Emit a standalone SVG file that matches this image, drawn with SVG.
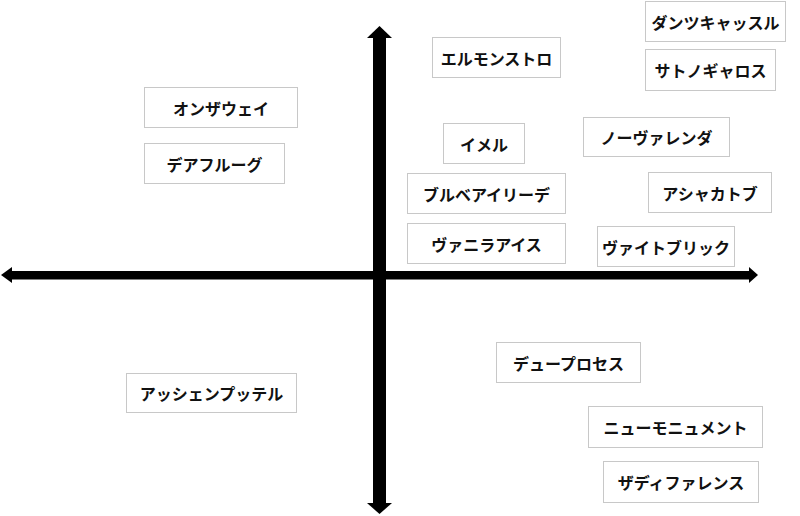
<svg xmlns="http://www.w3.org/2000/svg" width="800" height="516" viewBox="0 0 800 516">
<style>
.box{fill:#fff;stroke:#c8c8c8;stroke-width:1}
.lbl{font-family:"Noto Sans CJK JP","Noto Sans",sans-serif;font-weight:bold;font-size:16px;fill:#111;text-anchor:middle;dominant-baseline:central}
</style>
<rect width="800" height="516" fill="#fff"/>
<g id="connectors" fill="#000">
<rect x="373" y="37" width="13" height="467"/>
<polygon points="379.5,26 392,38 367,38"/>
<polygon points="379.5,514 392,503 367,503"/>
<rect x="11" y="271" width="739" height="8.5"/>
<polygon points="1,275 12,267 12,283"/>
<polygon points="758,275 749,267 749,283"/>
</g>
<g id="n1"><rect class="box" x="432.5" y="37.5" width="128" height="40"/><text class="lbl" x="496.5" y="57.5">エルモンストロ</text></g>
<g id="n2"><rect class="box" x="645.5" y="1.5" width="140" height="40"/><text class="lbl" x="715.5" y="21.5">ダンツキャッスル</text></g>
<g id="n3"><rect class="box" x="645.5" y="49.5" width="130" height="41"/><text class="lbl" x="710.5" y="70">サトノギャロス</text></g>
<g id="n4"><rect class="box" x="144.5" y="87.5" width="153" height="40"/><text class="lbl" x="221" y="107.5">オンザウェイ</text></g>
<g id="n5"><rect class="box" x="144.5" y="143.5" width="140" height="40"/><text class="lbl" x="214.5" y="163.5">デアフルーグ</text></g>
<g id="n6"><rect class="box" x="443.5" y="123.5" width="81" height="40"/><text class="lbl" x="484" y="143.5">イメル</text></g>
<g id="n7"><rect class="box" x="583.5" y="117.5" width="146" height="39"/><text class="lbl" x="656.5" y="137">ノーヴァレンダ</text></g>
<g id="n8"><rect class="box" x="407.5" y="173.5" width="158" height="40"/><text class="lbl" x="486.5" y="193.5">ブルベアイリーデ</text></g>
<g id="n9"><rect class="box" x="648.5" y="172.5" width="123" height="40"/><text class="lbl" x="710" y="192.5">アシャカトブ</text></g>
<g id="n10"><rect class="box" x="407.5" y="223.5" width="158" height="40"/><text class="lbl" x="486.5" y="243.5">ヴァニラアイス</text></g>
<g id="n11"><rect class="box" x="597.5" y="226.5" width="137" height="40"/><text class="lbl" x="666" y="246.5">ヴァイトブリック</text></g>
<g id="n12"><rect class="box" x="496.5" y="342.5" width="144" height="40"/><text class="lbl" x="568.5" y="362.5">デュープロセス</text></g>
<g id="n13"><rect class="box" x="126.5" y="373.5" width="170" height="39"/><text class="lbl" x="211.5" y="393">アッシェンプッテル</text></g>
<g id="n14"><rect class="box" x="588.5" y="406.5" width="174" height="41"/><text class="lbl" x="675.5" y="427">ニューモニュメント</text></g>
<g id="n15"><rect class="box" x="603.5" y="461.5" width="155" height="41"/><text class="lbl" x="681" y="482">ザディファレンス</text></g>
</svg>
